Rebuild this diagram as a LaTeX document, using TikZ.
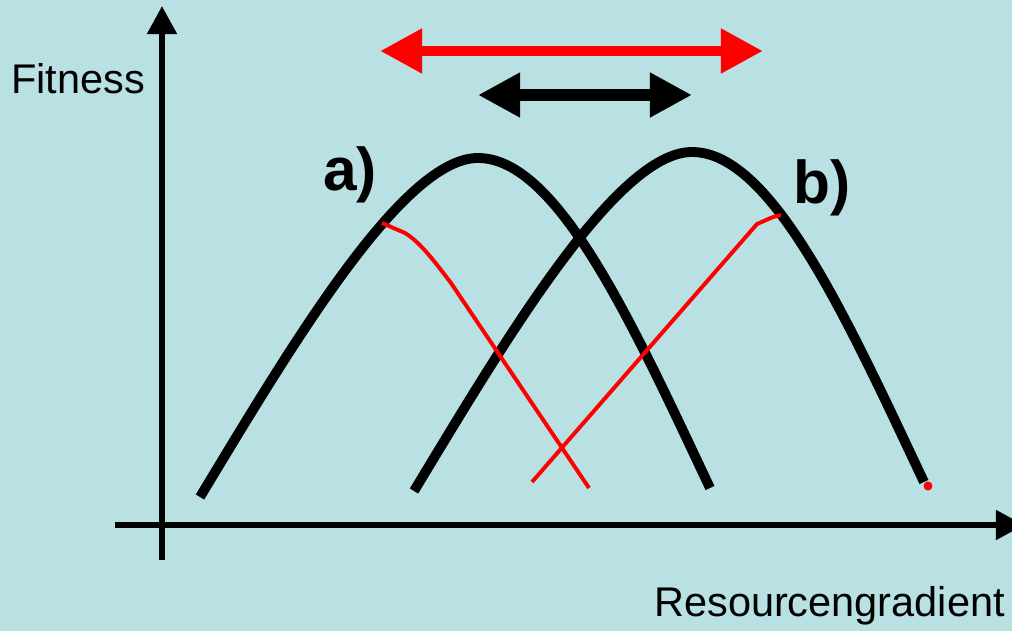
\documentclass[tikz,border=0pt]{standalone}
\usepackage{fontspec}
\setmainfont{Liberation Sans}
\usepackage{xcolor}
\usetikzlibrary{arrows.meta}
\definecolor{bgblue}{RGB}{185,224,227}

\begin{document}
\begin{tikzpicture}[
  x=0.025cm, y=-0.025cm,
  axis/.style={line width=4pt, -{Triangle[length=20pt, width=20.5pt]}},
  fitcurve/.style={line width=7pt},
  shiftline/.style={red, line width=2.8pt},
  rangearrow/.style={line width=8pt, {Triangle[length=30pt, width=30pt]}-{Triangle[length=30pt, width=30pt]}},
  axislabel/.style={font=\fontsize{29.5}{34}\selectfont, inner sep=0pt},
  curvelabel/.style={font=\fontsize{43}{50}\selectfont\bfseries, inner sep=0pt}
]
\useasboundingbox (0,0) rectangle (1012,631);
\fill [bgblue] (0,0) rectangle (1012,631);

% Axes
\coordinate (ybot) at (162,560);
\coordinate (ytop) at (162,6);
\coordinate (xleft) at (115,525);
\coordinate (xright) at (1024,525);
\draw [axis] (ybot) -- (ytop);
\draw [axis] (xleft) -- (xright);
\node (fitness) [axislabel, anchor=base west] at (11,93) {Fitness};
\node (gradient) [axislabel, anchor=base west] at (654,616) {Resourcengradient};

% Range arrows
\coordinate (redleft) at (380,51);
\coordinate (redright) at (763,51);
\coordinate (blackleft) at (478,95);
\coordinate (blackright) at (692,95);
\draw [rangearrow, red, line width=7.8pt] (redleft) -- (redright);
\draw [rangearrow, line width=8.5pt] (blackleft) -- (blackright);

% Fitness curves
\draw [fitcurve] (200,497) .. controls (293,343) and (403,158) .. (478,158)
                 .. controls (558,158) and (633,325) .. (710,488);
\draw [fitcurve] (414,491) .. controls (507,337) and (617,152) .. (692,152)
                 .. controls (772,152) and (847,319) .. (924,482);
\node (labela) [curvelabel, anchor=base west] at (323,190) {a)};
\node (labelb) [curvelabel, anchor=base west] at (793,203) {b)};

% Shifted (red) curves
\draw [shiftline] (382,223) -- (405,233) .. controls (420,242) and (435,262) .. (451,283) -- (589,488);
\draw [shiftline] (532,482) -- (757,224) -- (773,217) -- (781,215);
\fill [red] (928,486) circle (4.5);

\end{tikzpicture}
\end{document}
